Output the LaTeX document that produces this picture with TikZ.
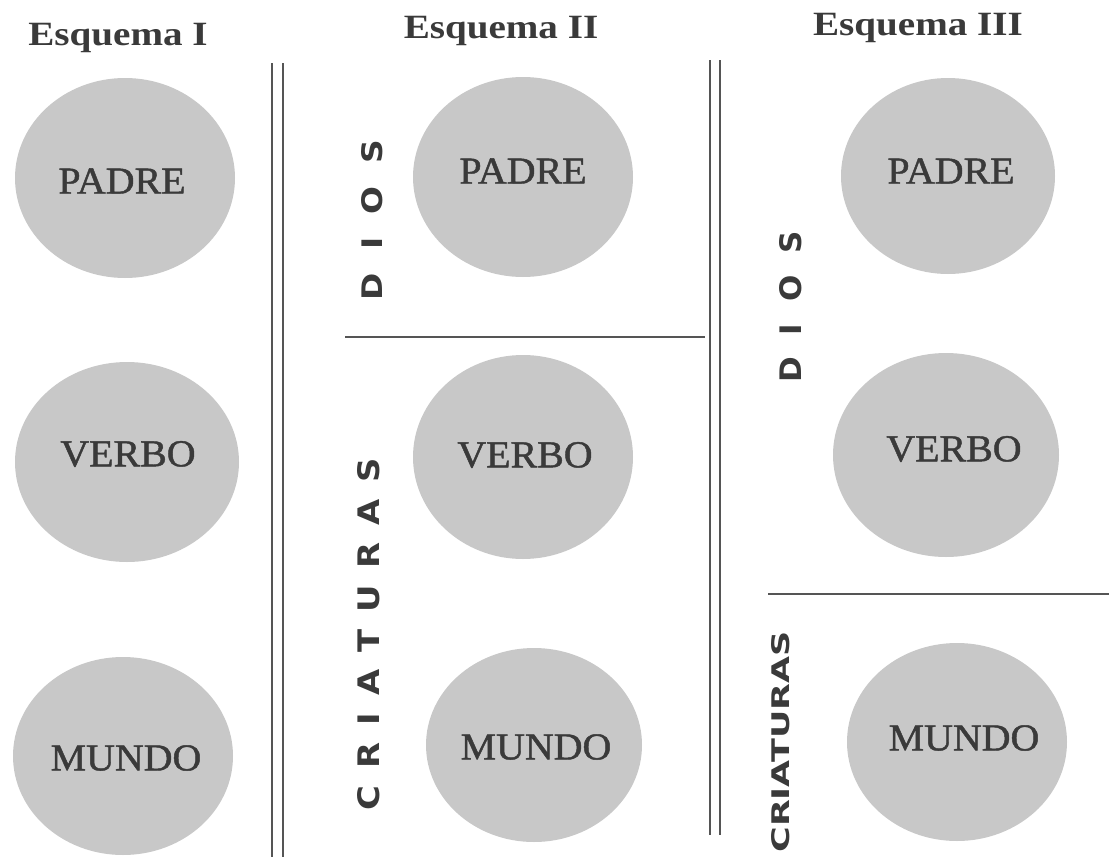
\documentclass[tikz,border=0pt]{standalone}
\usepackage{fontspec}
\usetikzlibrary{shapes.geometric}
\setmainfont{Liberation Serif}
\newfontfamily\titlefont[FakeStretch=1.15]{Liberation Serif}
\newfontfamily\labelfont[FakeStretch=1.05,FakeBold=1.2]{Liberation Serif}
\newfontfamily\sansfont{DejaVu Sans}
\definecolor{dotgray}{RGB}{200,200,200}
\definecolor{ink}{RGB}{58,58,58}
\definecolor{rulegray}{RGB}{85,85,85}
\begin{document}
\begin{tikzpicture}[x=0.5pt,y=-0.5pt,
  blob/.style={ellipse, fill=dotgray, draw=none, inner sep=0pt},
  title/.style={anchor=base, inner sep=0pt, text=ink, font=\titlefont\bfseries\fontsize{17}{20}\selectfont},
  word/.style={inner sep=0pt, text=ink, font=\labelfont\fontsize{19}{22}\selectfont},
  vword/.style={inner sep=0pt, text=ink, rotate=90, font=\sansfont\bfseries},
  sepline/.style={draw=rulegray, line width=0.6pt}]
\useasboundingbox (0,0) rectangle (1109,857);

% titles
\node[title] (t1) at (118,45) {Esquema I};
\node[title] (t2) at (501,38) {Esquema II};
\node[title] (t3) at (918,35) {Esquema III};

% Esquema I circles
\node[blob, minimum width=110pt, minimum height=100pt] (c1a) at (125,178) {};
\node[blob, minimum width=112pt, minimum height=100pt] (c1b) at (127,462) {};
\node[blob, minimum width=110pt, minimum height=99pt] (c1c) at (123,756) {};
\node[word] (w1a) at (122,181) {PADRE};
\node[word] (w1b) at (128,454) {VERBO};
\node[word] (w1c) at (126,758) {MUNDO};

% Esquema II circles
\node[blob, minimum width=110pt, minimum height=100pt] (c2a) at (523,177) {};
\node[blob, minimum width=110pt, minimum height=102pt] (c2b) at (523,457) {};
\node[blob, minimum width=108pt, minimum height=97pt] (c2c) at (534,745) {};
\node[word] (w2a) at (523,171) {PADRE};
\node[word] (w2b) at (525,455) {VERBO};
\node[word] (w2c) at (536,747) {MUNDO};

% Esquema III circles
\node[blob, minimum width=107pt, minimum height=98pt] (c3a) at (948,176) {};
\node[blob, minimum width=113pt, minimum height=102pt] (c3b) at (946,455) {};
\node[blob, minimum width=110pt, minimum height=99pt] (c3c) at (957,742) {};
\node[word] (w3a) at (951,171) {PADRE};
\node[word] (w3b) at (954,449) {VERBO};
\node[word] (w3c) at (964,738) {MUNDO};

% vertical labels
\node[vword] (dios2) at (372,220) {\resizebox{80pt}{10.5pt}{D\hspace{0.7em}I\hspace{0.7em}O\hspace{0.7em}S}};
\node[vword] (cria2) at (369,634) {\resizebox{176pt}{11pt}{C\hspace{0.5em}R\hspace{0.5em}I\hspace{0.5em}A\hspace{0.5em}T\hspace{0.5em}U\hspace{0.5em}R\hspace{0.5em}A\hspace{0.5em}S}};
\node[vword] (dios3) at (791,307) {\resizebox{75.5pt}{11pt}{D\hspace{0.7em}I\hspace{0.7em}O\hspace{0.7em}S}};
\node[vword] (cria3) at (781,742) {\resizebox{110.5pt}{9pt}{CRIATURAS}};

% separator lines
\coordinate (l1t) at (272,63);  \coordinate (l1b) at (272,857);
\coordinate (l2t) at (283,63);  \coordinate (l2b) at (283,857);
\coordinate (r1t) at (710,60);  \coordinate (r1b) at (710,835);
\coordinate (r2t) at (720,60);  \coordinate (r2b) at (720,835);
\coordinate (h2a) at (345,337); \coordinate (h2b) at (705,337);
\coordinate (h3a) at (768,594); \coordinate (h3b) at (1109,594);
\draw[sepline] (l1t) -- (l1b);
\draw[sepline] (l2t) -- (l2b);
\draw[sepline] (r1t) -- (r1b);
\draw[sepline] (r2t) -- (r2b);
\draw[sepline] (h2a) -- (h2b);
\draw[sepline] (h3a) -- (h3b);
\end{tikzpicture}
\end{document}
